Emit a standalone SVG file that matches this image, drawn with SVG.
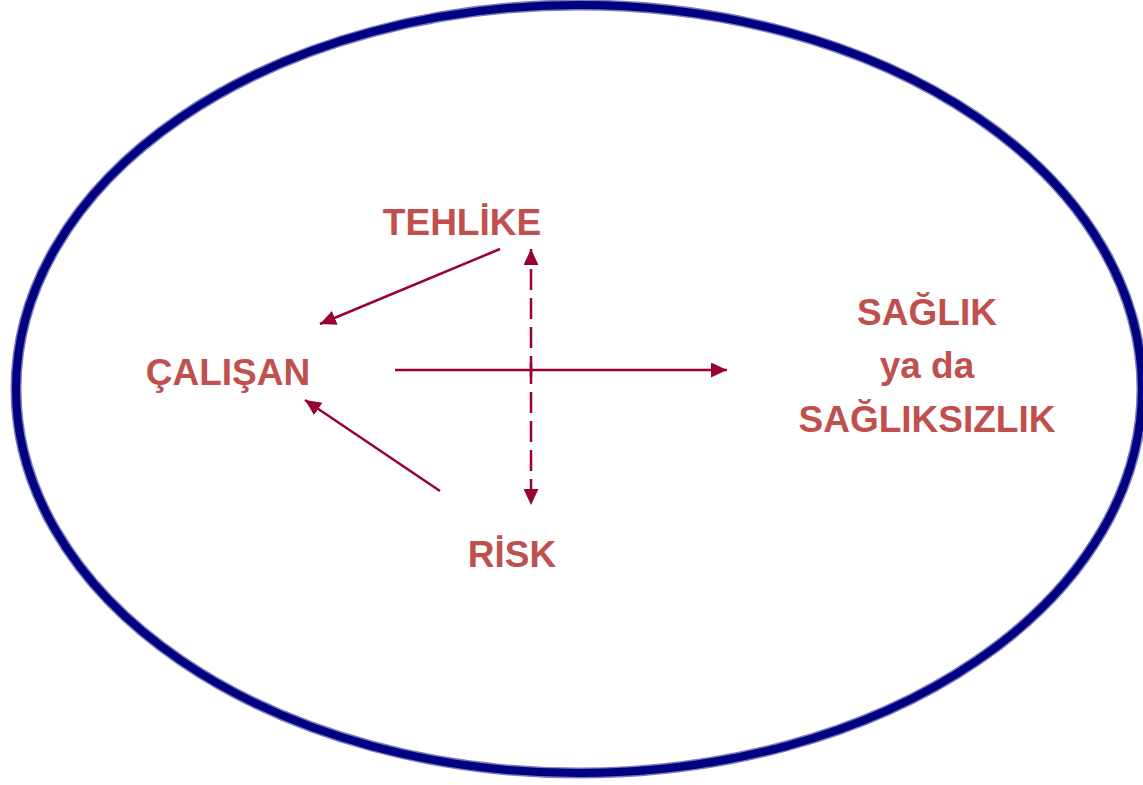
<svg xmlns="http://www.w3.org/2000/svg" width="1143" height="785" viewBox="0 0 1143 785">
<style>
.lbl{font-family:"Liberation Sans",Arial,sans-serif;font-weight:bold;font-size:37px;fill:#C0504D;text-anchor:middle}
.con{stroke:#990033;stroke-width:2.5;fill:none}
</style>
<defs>
<marker id="ah" markerUnits="userSpaceOnUse" markerWidth="18" markerHeight="16" refX="16" refY="7.5" orient="auto">
<path d="M0,0 L16,7.5 L0,15 Z" fill="#990033"/>
</marker>
</defs>
<rect width="1143" height="785" fill="#fff"/>
<g id="boundary">
<ellipse cx="579" cy="389" rx="563" ry="384" fill="none" stroke="#7a7ac0" stroke-width="11"/>
<ellipse cx="579" cy="389" rx="563" ry="384" fill="none" stroke="#000080" stroke-width="8"/>
</g>
<g id="connectors">
<line class="con" x1="500" y1="249" x2="320" y2="324" marker-end="url(#ah)"/>
<line class="con" x1="440" y1="491" x2="305" y2="400" marker-end="url(#ah)"/>
<line class="con" x1="395" y1="370" x2="727" y2="370" marker-end="url(#ah)"/>
<line class="con" x1="531" y1="377" x2="531" y2="249" stroke-dasharray="21 8" marker-end="url(#ah)"/>
<line class="con" x1="531" y1="363" x2="531" y2="505" stroke-dasharray="21 8" marker-end="url(#ah)"/>
</g>
<g id="tehlike"><text class="lbl" x="462" y="235">TEHLİKE</text></g>
<g id="calisan"><text class="lbl" x="228" y="385">ÇALIŞAN</text></g>
<g id="risk"><text class="lbl" x="512" y="567">RİSK</text></g>
<g id="saglik">
<text class="lbl" x="927" y="325">SAĞLIK</text>
<text class="lbl" x="927" y="378">ya da</text>
<text class="lbl" x="927" y="432">SAĞLIKSIZLIK</text>
</g>
</svg>
